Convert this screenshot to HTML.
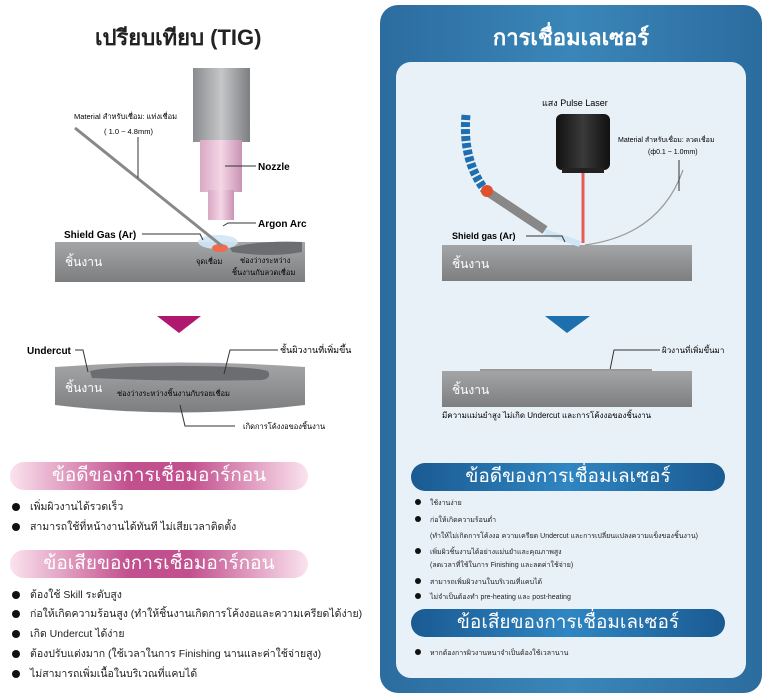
<!DOCTYPE html>
<html><head><meta charset="utf-8"><style>
body{margin:0;width:768px;height:699px;background:#fff;position:relative;overflow:hidden;font-family:"Liberation Sans","Noto Sans CJK SC",sans-serif;color:#222}
.a{position:absolute;white-space:nowrap}
.pill{position:absolute;border-radius:16px;color:#fff;text-align:center;font-size:19px;line-height:28px}
.b{position:absolute;font-size:10.5px;white-space:nowrap}
.b:before{content:"";display:inline-block;width:8px;height:8px;border-radius:50%;background:#111;margin-right:10px;vertical-align:-1px}
.s{position:absolute;font-size:7px;white-space:nowrap}
.s:before{content:"";display:inline-block;width:6px;height:6px;border-radius:50%;background:#111;margin-right:9px;vertical-align:0}
</style></head><body>
<div class="a" style="left:95px;top:20px;font-size:22px;color:#222;font-weight:bold">เปรียบเทียบ (TIG)</div>

<div style="position:absolute;left:380px;top:5px;width:382px;height:688px;border-radius:18px;background:linear-gradient(90deg,#2c6c9f,#3a86b8,#2c6c9f)"></div>
<div class="a" style="left:380px;width:382px;text-align:center;top:20px;font-size:22px;color:#fff;font-weight:bold">การเชื่อมเลเซอร์</div>
<div style="position:absolute;left:396px;top:62px;width:350px;height:616px;border-radius:15px;background:#e9f1f8"></div>

<svg width="768" height="699" style="position:absolute;left:0;top:0">
<defs>
<linearGradient id="gr" x1="0" x2="1"><stop offset="0" stop-color="#8a8c8f"/><stop offset=".5" stop-color="#c4c6c8"/><stop offset="1" stop-color="#7c7e81"/></linearGradient>
<linearGradient id="pk" x1="0" x2="1"><stop offset="0" stop-color="#d9a8c4"/><stop offset=".5" stop-color="#f4d6e6"/><stop offset="1" stop-color="#c993b2"/></linearGradient>
<linearGradient id="ws" x1="0" y1="0" x2="0" y2="1"><stop offset="0" stop-color="#a4a5a7"/><stop offset="1" stop-color="#7d7e80"/></linearGradient>
<linearGradient id="bk" x1="0" x2="1"><stop offset="0" stop-color="#111"/><stop offset=".5" stop-color="#3a3a3a"/><stop offset="1" stop-color="#111"/></linearGradient>
</defs>
<rect x="193" y="68" width="57" height="74" fill="url(#gr)"/>
<rect x="200" y="140" width="42" height="52" fill="url(#pk)"/>
<rect x="208" y="190" width="26" height="30" fill="url(#pk)"/>
<rect x="55" y="242" width="250" height="40" fill="url(#ws)"/>
<path d="M230 248 Q260 240 302 242 L302 252 Q270 258 232 252Z" fill="#6c6d70"/>
<ellipse cx="218" cy="242" rx="20" ry="7" fill="#cfe6f5" opacity=".9"/>
<ellipse cx="220" cy="248" rx="8" ry="4" fill="#f26a4b"/>
<line x1="75" y1="128" x2="222" y2="246" stroke="#888" stroke-width="3"/>
<g stroke="#333" fill="none" stroke-width="1">
<path d="M138 137 V178"/><path d="M225 166 H256"/><path d="M223 226 L228 223 H256"/><path d="M142 234 H200 L203 240"/>
</g>
<text x="258" y="170" font-size="10" font-weight="bold" font-family="Liberation Sans">Nozzle</text>
<text x="258" y="227" font-size="10" font-weight="bold" font-family="Liberation Sans">Argon Arc</text>
<text x="64" y="238" font-size="10" font-weight="bold" font-family="Liberation Sans">Shield Gas (Ar)</text>
<text x="74" y="119" font-size="7.5" font-family="Liberation Sans,Noto Sans CJK SC">Material สำหรับเชื่อม: แท่งเชื่อม</text>
<text x="104" y="134" font-size="7.5" font-family="Liberation Sans">(  1.0 ~ 4.8mm)</text>
<text x="65" y="266" font-size="12" fill="#fff" font-family="Liberation Sans,Noto Sans CJK SC">ชิ้นงาน</text>
<text x="196" y="264" font-size="7.5" font-family="Liberation Sans,Noto Sans CJK SC">จุดเชื่อม</text>
<text x="240" y="263" font-size="7.5" font-family="Liberation Sans,Noto Sans CJK SC">ช่องว่างระหว่าง</text>
<text x="232" y="275" font-size="7.5" font-family="Liberation Sans,Noto Sans CJK SC">ชิ้นงานกับลวดเชื่อม</text>
<polygon points="157,316 201,316 179,333" fill="#b0176f"/>
<path d="M55 367 Q180 358 305 367 L305 405 Q180 420 55 405Z" fill="url(#ws)"/>
<path d="M90 371 Q110 366 180 366 Q250 366 268 371 Q272 378 262 380 Q180 382 92 378Z" fill="#6c6d70"/>
<g stroke="#333" fill="none"><path d="M75 350 H83 L88 372"/><path d="M224 374 L230 350 H278"/><path d="M180 405 L185 426 H235"/></g>
<text x="27" y="354" font-size="10" font-weight="bold" font-family="Liberation Sans">Undercut</text>
<text x="280" y="353" font-size="9" font-family="Liberation Sans,Noto Sans CJK SC">ชั้นผิวงานที่เพิ่มขึ้น</text>
<text x="65" y="392" font-size="12" fill="#fff" font-family="Liberation Sans,Noto Sans CJK SC">ชิ้นงาน</text>
<text x="117" y="396" font-size="7.5" font-family="Liberation Sans,Noto Sans CJK SC">ช่องว่างระหว่างชิ้นงานกับรอยเชื่อม</text>
<text x="243" y="429" font-size="7.5" font-family="Liberation Sans,Noto Sans CJK SC">เกิดการโค้งงอของชิ้นงาน</text>
<rect x="442" y="245" width="250" height="36" fill="url(#ws)"/>
<rect x="556" y="114" width="54" height="56" rx="6" fill="url(#bk)"/>
<rect x="562" y="168" width="42" height="5" fill="#222"/>
<line x1="583" y1="173" x2="583" y2="243" stroke="#e23a2a" stroke-width="3" opacity=".8"/>
<path d="M466 115 Q462 160 485 190" stroke="#1f6fb0" stroke-width="9" fill="none" stroke-dasharray="5 2"/>
<path d="M485 190 L545 230" stroke="#888" stroke-width="9"/>
<circle cx="487" cy="191" r="6" fill="#e0502a"/>
<path d="M545 232 L580 244" stroke="#cfe6f5" stroke-width="6"/>
<path d="M585 245 Q660 235 683 170" stroke="#999" fill="none" stroke-width="1.2"/>
<g stroke="#333" fill="none"><path d="M526 236 H562 L565 242"/><path d="M679 160 V191"/><path d="M610 370 L614 350 H660"/></g>
<text x="542" y="106" font-size="9" font-family="Liberation Sans,Noto Sans CJK SC">แสง Pulse Laser</text>
<text x="618" y="142" font-size="7" font-family="Liberation Sans,Noto Sans CJK SC">Material สำหรับเชื่อม: ลวดเชื่อม</text>
<text x="648" y="154" font-size="7" font-family="Liberation Sans">(ф0.1 ~ 1.0mm)</text>
<text x="452" y="239" font-size="9" font-weight="bold" font-family="Liberation Sans">Shield gas (Ar)</text>
<text x="452" y="268" font-size="12" fill="#fff" font-family="Liberation Sans,Noto Sans CJK SC">ชิ้นงาน</text>
<polygon points="545,316 590,316 567,333" fill="#1e6fad"/>
<rect x="480" y="369" width="172" height="3" fill="#999"/>
<rect x="442" y="371" width="250" height="36" fill="url(#ws)"/>
<text x="662" y="353" font-size="8" font-family="Liberation Sans,Noto Sans CJK SC">ผิวงานที่เพิ่มขึ้นมา</text>
<text x="452" y="394" font-size="12" fill="#fff" font-family="Liberation Sans,Noto Sans CJK SC">ชิ้นงาน</text>
<text x="442" y="418" font-size="8" font-family="Liberation Sans,Noto Sans CJK SC">มีความแม่นยำสูง ไม่เกิด Undercut และการโค้งงอของชิ้นงาน</text>
</svg>

<div class="pill" style="left:10px;top:462px;width:298px;background:linear-gradient(90deg,#fbe3ee,#c24f8e 40%,#c24f8e 60%,#fbe3ee)">ข้อดีของการเชื่อมอาร์กอน</div>
<div class="b" style="left:12px;top:498px">เพิ่มผิวงานได้รวดเร็ว</div>
<div class="b" style="left:12px;top:518px">สามารถใช้ที่หน้างานได้ทันที ไม่เสียเวลาติดตั้ง</div>
<div class="pill" style="left:10px;top:550px;width:298px;background:linear-gradient(90deg,#fbe3ee,#c24f8e 40%,#c24f8e 60%,#fbe3ee)">ข้อเสียของการเชื่อมอาร์กอน</div>
<div class="b" style="left:12px;top:586px">ต้องใช้ Skill ระดับสูง</div>
<div class="b" style="left:12px;top:605px">ก่อให้เกิดความร้อนสูง (ทำให้ชิ้นงานเกิดการโค้งงอและความเครียดได้ง่าย)</div>
<div class="b" style="left:12px;top:625px">เกิด Undercut ได้ง่าย</div>
<div class="b" style="left:12px;top:645px">ต้องปรับแต่งมาก (ใช้เวลาในการ Finishing นานและค่าใช้จ่ายสูง)</div>
<div class="b" style="left:12px;top:665px">ไม่สามารถเพิ่มเนื้อในบริเวณที่แคบได้</div>

<div class="pill" style="left:411px;top:463px;width:314px;background:linear-gradient(90deg,#1a5a92,#2f86c2 50%,#1a5a92)">ข้อดีของการเชื่อมเลเซอร์</div>
<div class="s" style="left:415px;top:498px">ใช้งานง่าย</div>
<div class="s" style="left:415px;top:515px">ก่อให้เกิดความร้อนต่ำ</div>
<div class="a" style="left:430px;top:531px;font-size:7px">(ทำให้ไม่เกิดการโค้งงอ ความเครียด Undercut และการเปลี่ยนแปลงความแข็งของชิ้นงาน)</div>
<div class="s" style="left:415px;top:547px">เพิ่มผิวชิ้นงานได้อย่างแม่นยำและคุณภาพสูง</div>
<div class="a" style="left:430px;top:560px;font-size:7px">(ลดเวลาที่ใช้ในการ Finishing และลดค่าใช้จ่าย)</div>
<div class="s" style="left:415px;top:577px">สามารถเพิ่มผิวงานในบริเวณที่แคบได้</div>
<div class="s" style="left:415px;top:592px">ไม่จำเป็นต้องทำ pre-heating และ post-heating</div>
<div class="pill" style="left:411px;top:609px;width:314px;background:linear-gradient(90deg,#1a5a92,#2f86c2 50%,#1a5a92)">ข้อเสียของการเชื่อมเลเซอร์</div>
<div class="s" style="left:415px;top:648px">หากต้องการผิวงานหนาจำเป็นต้องใช้เวลานาน</div>
</body></html>
